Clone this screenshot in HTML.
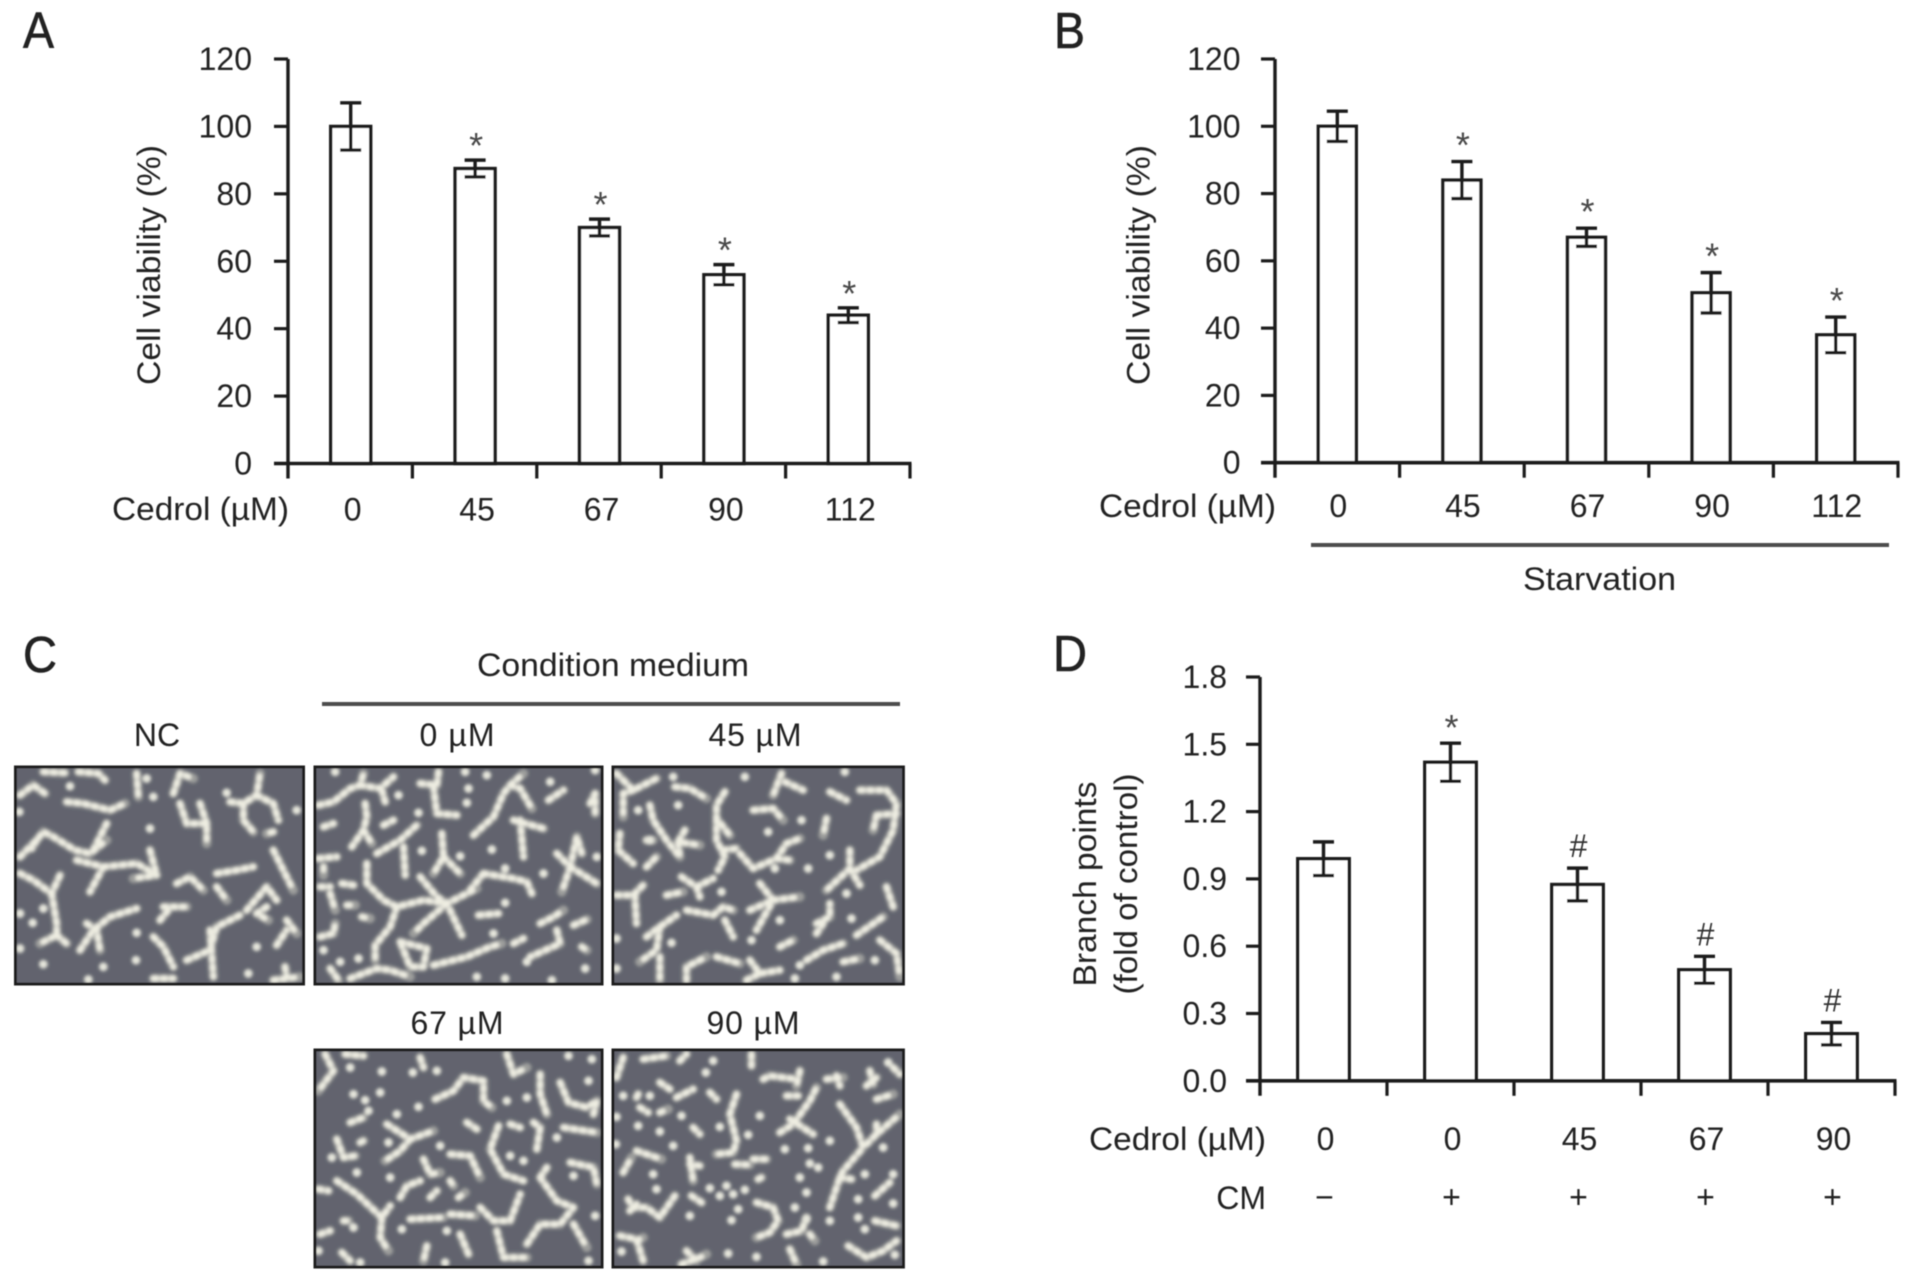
<!DOCTYPE html>
<html lang="en">
<head>
<meta charset="utf-8">
<title>Cedrol cell viability and branch points</title>
<style>
html,body{margin:0;padding:0;background:#fff;}
svg{display:block;}
text{font-family:"Liberation Sans",Arial,sans-serif;fill:#222;font-size:32px;}
.letter{font-size:51px;fill:#222;stroke:#222;stroke-width:.6;}
.rule{stroke:#4e4e4e;stroke-width:4;}
</style>
</head>
<body>
<svg id="figure" xmlns="http://www.w3.org/2000/svg" width="1913" height="1282" viewBox="0 0 1913 1282">
<defs>
<filter id="soft" x="-5%" y="-5%" width="110%" height="110%"><feGaussianBlur stdDeviation="0.55"/></filter>
<filter id="cellblur" x="-5%" y="-5%" width="110%" height="110%"><feGaussianBlur stdDeviation="4.5"/></filter>
</defs>
<g id="root" filter="url(#soft)">
<text class="letter" x="23" y="48" textLength="31" lengthAdjust="spacingAndGlyphs">A</text>
<text class="letter" x="1054" y="48" textLength="31" lengthAdjust="spacingAndGlyphs">B</text>
<text class="letter" x="23" y="672" textLength="34" lengthAdjust="spacingAndGlyphs">C</text>
<text class="letter" x="1053" y="671" textLength="34" lengthAdjust="spacingAndGlyphs">D</text>

<text x="112" y="520" textLength="177" lengthAdjust="spacingAndGlyphs">Cedrol (µM)</text>
<text x="1099" y="517" textLength="177" lengthAdjust="spacingAndGlyphs">Cedrol (µM)</text>
<text x="1089" y="1150" textLength="177" lengthAdjust="spacingAndGlyphs">Cedrol (µM)</text>
<text x="1266" y="1209" text-anchor="end">CM</text>

<text transform="translate(160,265) rotate(-90)" text-anchor="middle" textLength="240" lengthAdjust="spacingAndGlyphs">Cell viability (%)</text>
<text transform="translate(1149.5,265) rotate(-90)" text-anchor="middle" textLength="240" lengthAdjust="spacingAndGlyphs">Cell viability (%)</text>
<text transform="translate(1096,884) rotate(-90)" text-anchor="middle" textLength="205" lengthAdjust="spacingAndGlyphs">Branch points</text>
<text transform="translate(1137,884) rotate(-90)" text-anchor="middle" textLength="221" lengthAdjust="spacingAndGlyphs">(fold of control)</text>

<line class="rule" x1="1311" y1="545" x2="1889" y2="545"/>
<text x="1523" y="590" textLength="153" lengthAdjust="spacingAndGlyphs">Starvation</text>

<text x="477" y="676" textLength="272" lengthAdjust="spacingAndGlyphs">Condition medium</text>
<line class="rule" x1="322" y1="704" x2="900" y2="704"/>
<text x="157" y="746" text-anchor="middle">NC</text>
<text x="457" y="746" text-anchor="middle" textLength="75" lengthAdjust="spacing">0 µM</text>
<text x="755" y="746" text-anchor="middle" textLength="93" lengthAdjust="spacing">45 µM</text>
<text x="457" y="1034" text-anchor="middle" textLength="93" lengthAdjust="spacing">67 µM</text>
<text x="753" y="1034" text-anchor="middle" textLength="93" lengthAdjust="spacing">90 µM</text>
</g>
</svg>
<script>
// Panel A: cell viability
const panelACategories = ['0', '45', '67', '90', '112'];
const panelAValues = [100, 87.5, 70, 56, 44];
const panelAErrors = [7, 2.5, 2.5, 3, 2.2];
const panelAMarkers = ['', '*', '*', '*', '*'];
const panelATicks = [0, 20, 40, 60, 80, 100, 120];
const panelATickLabels = ['0', '20', '40', '60', '80', '100', '120'];

// Panel B: cell viability under starvation
const panelBCategories = ['0', '45', '67', '90', '112'];
const panelBValues = [100, 84, 67, 50.5, 38];
const panelBErrors = [4.5, 5.5, 2.7, 6, 5.3];
const panelBMarkers = ['', '*', '*', '*', '*'];
const panelBTicks = [0, 20, 40, 60, 80, 100, 120];
const panelBTickLabels = ['0', '20', '40', '60', '80', '100', '120'];

// Panel D: branch points
const panelDCategories = ['0', '0', '45', '67', '90'];
const panelDConditionMedium = ['\u2212', '+', '+', '+', '+'];
const panelDValues = [0.99, 1.42, 0.875, 0.495, 0.21];
const panelDErrors = [0.075, 0.085, 0.073, 0.06, 0.05];
const panelDMarkers = ['', '*', '#', '#', '#'];
const panelDTicks = [0, 0.3, 0.6, 0.9, 1.2, 1.5, 1.8];
const panelDTickLabels = ['0.0', '0.3', '0.6', '0.9', '1.2', '1.5', '1.8'];

// Panel C: traced micrograph structure (strands as path strings, isolated cells as "x y" pairs)
const micrographNCStrands = "M30 105L70 75L105 100M205 35L265 40L285 60M100 35L165 38M380 40L385 110M170 125L220 130L300 150L345 130M490 100L510 40L550 55M510 130L530 190L590 190L590 250M570 130L590 190M660 125L700 130L740 105L750 40M740 105L790 130L805 180M700 130L700 180L730 215M790 215L770 220M30 290L80 240L100 215L130 230L195 270L240 280L290 240M80 240L65 265M250 270L290 190M200 300L280 320L240 395M280 320L380 310L440 345L370 355M420 270L440 345M30 340L70 360L125 400L150 345M125 400L140 490L140 525L90 550M140 525L170 550M210 570L250 510L300 470L380 445M230 490L260 510L270 570M500 370L540 350L580 390M460 440L530 440M450 480L475 450M430 530L460 560L490 620M530 600L600 570L620 500L690 465M600 510L610 650M620 340L680 330L730 320M620 380L650 420M710 450L770 380L800 420M770 440L740 460L775 480M790 270L820 330L850 390M830 480L860 520M800 555L830 510M790 660L870 650M825 620L830 650M430 655L490 655";
const micrographNCCells = [[180,78],[28,155],[860,150],[420,205],[430,110],[410,55],[650,98],[100,445],[68,488],[380,518],[378,600],[280,620],[100,612],[740,560],[715,640],[235,658],[30,565],[30,460]];
const micrograph0Strands = "M25 135L70 125L120 85L150 75L160 40M150 75L210 85L250 50M165 130L170 170L160 210L125 260M160 210L185 250M215 90L225 125M330 70L380 75L385 35M370 80L380 160L440 165M395 220L400 290L370 340M400 290L450 340M25 295L80 290M40 320L40 345M200 280L270 240L320 195M280 260L285 345M490 225L550 170L580 100L600 75L630 85L665 145M600 75L640 40M610 180L700 205M630 180L640 290M740 280L780 320L800 230L815 280M780 320L755 395M780 320L860 370M715 120L760 90M170 310L170 370L220 420L260 440L340 420L410 430L500 385M330 350L380 410L410 430L455 525M410 430L340 490L310 520M520 340L610 355L650 365L665 400M520 340L480 390M260 440L240 500L195 555L195 600M30 530L70 520L75 490M60 400L75 450M30 380L60 380M95 370L130 375M110 435L135 435M155 470L180 475M505 465L565 460M270 545L350 565L340 620L300 620L280 570L270 545M370 615L470 590L540 560L575 550M60 625L85 660M120 655L200 625L240 630L300 650M690 490L730 470L760 450M740 510L750 550L660 590M790 495L830 478M610 550L640 535M815 560L830 570M40 200L70 190M220 195L250 180M840 130L855 100L855 160";
const micrograph0Cells = [[75,35],[465,35],[530,45],[855,30],[720,65],[475,85],[470,128],[325,158],[265,105],[545,268],[450,288],[585,325],[335,272],[585,428],[650,605],[500,650],[585,655],[725,660],[825,625],[860,290],[700,340],[90,605],[40,570],[145,595],[550,520]];
const micrograph45Strands = "M40 60L70 90L140 55M70 90L40 100L40 170M20 40L40 60M195 80L240 85L290 115M120 135L130 180L170 240L210 290L205 245L270 255M225 210L205 245M345 95L320 135L320 175L360 225M320 175L320 240L345 290L325 330M340 270L380 265M390 280L430 325L500 295L530 250L570 235M500 295L540 300M430 150L490 145L520 180M515 40L490 105M525 65L580 90M660 95L710 120M750 90L830 90L860 130L850 210L810 290L740 330M800 165L790 210M800 165L860 160M720 270L720 325L650 390M720 325L750 375M650 175L640 225M30 220L25 270L70 310M110 240L130 240M110 320L140 290M215 350L260 380L310 355M260 380L270 410M170 405L220 395M20 405L70 405L100 375M75 405L80 490M450 370L490 420L440 510M490 420L570 410M420 450L490 420M230 450L310 465L340 440L370 450M345 480L370 530M110 530L150 500L200 465M150 500L140 570L90 605M150 590L150 660M230 660L230 620L290 590M320 590L390 610M420 600L450 640L510 630M410 660L450 640M510 560L550 540M590 600L640 570L700 550M620 490L660 470L660 430M620 520L640 490M740 525L820 470M830 380L850 440M810 540L860 580L870 650M700 605L750 595";
const micrograph45Cells = [[405,50],[190,50],[205,135],[85,150],[475,215],[575,180],[660,285],[495,325],[595,325],[710,400],[335,395],[725,475],[510,480],[425,540],[185,548],[20,535],[20,625],[570,615],[680,650],[795,600],[555,655],[705,35],[120,240]];
const micrograph67Strands = "M45 30L70 80L25 140M105 30L160 35M330 40L340 70M590 30L610 90L650 70M375 165L430 140L460 100L520 110L520 170L545 190M690 90L690 150L710 210M750 115L775 175L830 190L860 170L850 210M120 235L160 220M230 240L300 285L370 260M300 285L270 320L225 350M80 285L100 340L135 335M150 295L160 290M470 235L500 255M565 245L540 315L580 390L640 410M600 240L630 250M670 235L690 250L680 315M760 250L860 265M780 355L850 370L860 420M420 330L480 335L510 400M340 345L360 390L390 385M80 410L140 450L215 520L240 485M215 520L210 580L235 620M270 460L290 425L330 410M25 435L55 440M420 410L430 425M445 460L465 445M360 460L380 440M510 490L550 530L600 530L630 450M300 525L400 520M420 510L495 515M690 400L740 470L790 490L750 540L690 540L650 600M790 540L830 610M560 560L580 640L650 640M690 400L710 370M450 570L475 630M350 605L340 650M30 570L60 560M95 625L120 650M100 530L115 530";
const micrograph67Cells = [[120,70],[215,82],[308,85],[380,80],[130,150],[165,168],[210,145],[325,188],[175,200],[260,210],[590,170],[650,160],[835,110],[775,35],[845,45],[740,280],[235,295],[390,305],[640,350],[600,335],[140,385],[240,400],[65,340],[790,395],[855,515],[410,560],[275,555],[130,550],[405,655],[150,655],[25,620],[835,650]];
const micrograph90Strands = "M20 100L40 40M100 45L170 35M210 50L230 30M425 30L425 65M150 115L180 135M200 160L250 135M85 150L80 160M90 190L115 205M150 205L175 195M300 145L320 165M380 150L360 210L380 290L370 325L320 330M250 250L270 270M460 105L480 95L560 105M570 80L560 125M530 155L565 155M510 265L550 240L600 170L620 130M540 225L610 270M650 105L700 100M680 95L690 125M780 80L790 120M770 125L800 100M800 165L850 150M850 70L870 90M690 180L740 250L760 310L700 380L690 400L660 490M690 400L725 405M770 300L800 270L870 210M800 240L800 270M240 340L250 410M270 365L240 360M80 320L155 345M40 385L65 340M430 345L470 345M375 360L420 362M445 405L455 400M55 465L70 490L110 490L150 520L195 455M60 500L80 480M245 455L275 475M440 475L490 490L505 530L480 565L440 580M795 455L840 415M795 530L860 545M715 605L770 640L820 620L860 590M30 575L80 585L100 650M80 590L100 580M215 660L270 640L290 630M230 620L260 650M540 615L560 660M530 570L575 560L590 520M600 570L615 590";
const micrograph90Cells = [[310,50],[288,85],[40,155],[120,155],[20,218],[85,245],[150,262],[215,215],[330,248],[415,272],[190,305],[18,300],[525,315],[595,312],[600,358],[625,370],[660,290],[130,390],[140,435],[350,425],[300,432],[330,455],[370,450],[405,437],[240,515],[365,528],[385,495],[555,490],[590,525],[745,465],[745,520],[850,478],[765,555],[820,310],[765,390],[850,390],[660,530],[35,622],[355,628],[440,638],[640,652],[855,632],[570,400],[590,445],[450,215],[835,55]];

const NS = 'http://www.w3.org/2000/svg';
const root = document.getElementById('root');
const INK = '#1f1f1f';

function mk(parent, tag, attrs, content) {
  const el = document.createElementNS(NS, tag);
  for (const k in attrs) el.setAttribute(k, attrs[k]);
  if (content !== undefined) el.textContent = content;
  parent.appendChild(el);
  return el;
}

function drawPanel(id, layout, categories, values, errors, markers, ticks, tickLabels) {
  const g = mk(root, 'g', {});
  
  

  const yMax = ticks[ticks.length - 1];
  const yScale = v => layout.y0 + (layout.y1 - layout.y0) * v / yMax;
  const step = (layout.x1 - layout.x0) / categories.length;
  const xBand = i => layout.x0 + step * (i + 0.5) + layout.shift;
  const xEdge = i => layout.x0 + step * i;

  // bars
  values.forEach((v, i) => {
    const bar = mk(g, 'rect', {
      x: xBand(i) - layout.barW / 2, y: yScale(v), width: layout.barW, height: layout.y0 - yScale(v),
      fill: '#fff', stroke: INK, 'stroke-width': 3.4
    });
    
    
  });

  // error bars
  values.forEach((v, i) => {
    const cx = xBand(i);
    const hi = yScale(v + errors[i]);
    const lo = yScale(v - errors[i]);
    const err = mk(g, 'path', {
      d: 'M' + (cx - 10.5) + ' ' + hi + 'H' + (cx + 10.5) + 'M' + cx + ' ' + hi + 'V' + lo + 'M' + (cx - 10.5) + ' ' + lo + 'H' + (cx + 10.5),
      fill: 'none', stroke: INK, 'stroke-width': 3.4
    });
    
    
  });

  // significance markers
  markers.forEach((m, i) => {
    if (!m) return;
    const cy = yScale(values[i] + errors[i]) - layout.markGap;
    const isHash = m === '#';
    const mark = mk(g, 'text', {
      x: xBand(i) + 1, y: cy + (isHash ? 11 : 19), 'text-anchor': 'middle',
      style: 'font-size:' + (isHash ? 32 : 36) + 'px;fill:' + (isHash ? '#333' : '#4a4a4a')
    }, m);
    
    
  });

  // axes
  const yAxis = mk(g, 'line', { x1: layout.x0, y1: layout.y1, x2: layout.x0, y2: layout.y0 + 15, stroke: INK, 'stroke-width': 3.4 });
  
  
  const xAxis = mk(g, 'line', { x1: layout.x0 - 14, y1: layout.y0, x2: layout.x1 + 1.5, y2: layout.y0, stroke: INK, 'stroke-width': 3.6 });
  
  

  ticks.forEach((t, i) => {
    const y = yScale(t);
    const tick = mk(g, 'line', { x1: layout.x0 - 14, y1: y, x2: layout.x0, y2: y, stroke: INK, 'stroke-width': 3.2 });
    
    
    const lab = mk(g, 'text', { x: layout.labelRight, y: y + 11, 'text-anchor': 'end' }, tickLabels[i]);
    
    
  });

  for (let i = 1; i <= categories.length; i++) {
    const tick = mk(g, 'line', { x1: xEdge(i), y1: layout.y0, x2: xEdge(i), y2: layout.y0 + 15, stroke: INK, 'stroke-width': 3.2 });
    
    
  }

  categories.forEach((c, i) => {
    const lab = mk(g, 'text', { x: xBand(i) + layout.catShift, y: layout.catY, 'text-anchor': 'middle' }, c);
    
    
  });

  return xBand;
}

drawPanel('a', { x0: 288, x1: 910, y0: 463.5, y1: 59, barW: 40, shift: 0.5, labelRight: 252, catY: 520.5, catShift: 2, markGap: 21 },
  panelACategories, panelAValues, panelAErrors, panelAMarkers, panelATicks, panelATickLabels);
drawPanel('b', { x0: 1275, x1: 1898, y0: 462.7, y1: 59, barW: 38, shift: 0, labelRight: 1240.5, catY: 517, catShift: 1, markGap: 23 },
  panelBCategories, panelBValues, panelBErrors, panelBMarkers, panelBTicks, panelBTickLabels);
const dBand = drawPanel('d', { x0: 1260, x1: 1895, y0: 1080.8, y1: 677, barW: 51.5, shift: 0, labelRight: 1227, catY: 1150, catShift: 2, markGap: 22 },
  panelDCategories, panelDValues, panelDErrors, panelDMarkers, panelDTicks, panelDTickLabels);

panelDConditionMedium.forEach((s, i) => {
  const lab = mk(root, 'text', { x: dBand(i) + 1, y: 1208, 'text-anchor': 'middle' }, s);
  
  
});

// Panel C micrographs
function drawMicrograph(name, fx, fy, vx, vy, vw, vh, strands, cells) {
  const frame = mk(root, 'svg', { x: fx, y: fy, width: vw / 3, height: vh / 3, viewBox: vx + ' ' + vy + ' ' + vw + ' ' + vh });
  
  
  mk(frame, 'rect', { x: vx, y: vy, width: vw, height: vh, fill: '#62646e' });
  const g = mk(frame, 'g', { filter: 'url(#cellblur)' });
  mk(g, 'path', { d: strands, fill: 'none', stroke: '#9c9d9b', 'stroke-width': 28, 'stroke-linecap': 'round', 'stroke-linejoin': 'round' });
  mk(g, 'path', { d: strands, fill: 'none', stroke: '#eeede2', 'stroke-width': 17, 'stroke-linecap': 'round', 'stroke-linejoin': 'round', 'stroke-dasharray': '10 17' });
  cells.forEach(c => {
    mk(g, 'circle', { cx: c[0], cy: c[1], r: 13, fill: '#e6e6dc' });
  });
  mk(frame, 'rect', { x: vx + 4, y: vy + 4, width: vw - 8, height: vh - 8, fill: 'none', stroke: '#1a1a1a', 'stroke-width': 9 });
}

drawMicrograph('micrograph-nc', 14, 765.5, 12, 16, 873, 660, micrographNCStrands, micrographNCCells);
drawMicrograph('micrograph-0um', 313.5, 765.5, 10, 16, 870, 660, micrograph0Strands, micrograph0Cells);
drawMicrograph('micrograph-45um', 611.5, 765.5, 5, 16, 880, 660, micrograph45Strands, micrograph45Cells);
drawMicrograph('micrograph-67um', 313.5, 1048.5, 10, 13, 870, 660, micrograph67Strands, micrograph67Cells);
drawMicrograph('micrograph-90um', 611.5, 1048.5, 5, 13, 880, 660, micrograph90Strands, micrograph90Cells);
</script>
</body>
</html>
